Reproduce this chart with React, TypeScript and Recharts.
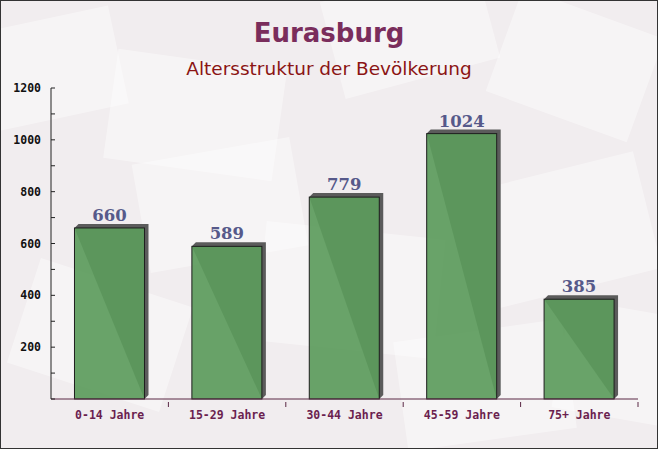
import { BarChart, Bar, XAxis, YAxis, LabelList } from "recharts";

const categories = ["0-14 Jahre", "15-29 Jahre", "30-44 Jahre", "45-59 Jahre", "75+ Jahre"];
const values = [660, 589, 779, 1024, 385];
const yTicks = [0, 100, 200, 300, 400, 500, 600, 700, 800, 900, 1000, 1100, 1200];

const W = 658;
const H = 449;
const PLOT_LEFT = 51;
const PLOT_RIGHT = 20;
const BAND = (W - PLOT_LEFT - PLOT_RIGHT) / categories.length;

const data = categories.map((name, i) => ({ name, value: values[i] }));

const BarShape = (props: any) => {
    const { x, y, width, height } = props;
    const d = 4;
    const pts = [
        [x, y],
        [x + d, y - d],
        [x + width + d, y - d],
        [x + width + d, y + height - d],
        [x + width, y + height],
    ].map(p => p.join(",")).join(" ");
    return (
        <g>
            <polygon points={pts} fill="#5b5b5b" />
            <rect x={x} y={y} width={width} height={height} fill="#5c9b5c" fillOpacity={0.92} stroke="#1e1e1e" strokeWidth={1} />
        </g>
    );
};

const YTick = (props: any) => {
    const { x, y, payload } = props;
    const v = payload.value;
    return (
        <g>
            <line x1={PLOT_LEFT} x2={PLOT_LEFT + 4} y1={y} y2={y} stroke="#222" />
            {v % 200 === 0 && v !== 0 && (
                <text x={x - 8} y={y + 4} textAnchor="end" fontFamily="DejaVu Sans Mono" fontWeight="bold" fontSize={11.5} fill="#111">
                    {v}
                </text>
            )}
        </g>
    );
};

const XTick = (props: any) => {
    const { x, y, payload } = props;
    return (
        <g>
            <line x1={x + BAND / 2} x2={x + BAND / 2} y1={y} y2={y - 5} stroke="#5a2845" />
            <text x={x} y={y + 12} textAnchor="middle" fontFamily="DejaVu Sans Mono" fontWeight="bold" fontSize={11.5} fill="#6b1f4f">
                {payload.value}
            </text>
        </g>
    );
};

const envelopes = [
    { l: -30, t: 20, w: 150, h: 100, r: -12 },
    { l: 110, t: 60, w: 170, h: 110, r: 8 },
    { l: 330, t: -20, w: 160, h: 100, r: -15 },
    { l: 500, t: 10, w: 150, h: 110, r: 20 },
    { l: 140, t: 150, w: 160, h: 110, r: -10 },
    { l: 260, t: 230, w: 180, h: 120, r: 6 },
    { l: 480, t: 170, w: 170, h: 120, r: -14 },
    { l: 20, t: 280, w: 160, h: 110, r: 18 },
    { l: 400, t: 330, w: 170, h: 110, r: -8 },
    { l: 560, t: 310, w: 140, h: 110, r: 10 },
];

export default function App() {
    return (
        <div style={{ position: "absolute", left: 0, top: 0, width: W, height: H, overflow: "hidden", background: "#f1edef" }}>
            {envelopes.map((e, i) => (
                <div key={i} style={{
                    position: "absolute", left: e.l, top: e.t, width: e.w, height: e.h,
                    background: "rgba(255,255,255,0.4)", transform: `rotate(${e.r}deg)`
                }} />
            ))}
            <div style={{ position: "absolute", top: 18, width: W, textAlign: "center", fontFamily: "DejaVu Sans", fontWeight: "bold", fontSize: 26, lineHeight: "normal", color: "#7a2d5c" }}>
                Eurasburg
            </div>
            <div style={{ position: "absolute", top: 58, width: W, textAlign: "center", fontFamily: "DejaVu Sans", fontSize: 18.5, lineHeight: "normal", color: "#8b1414" }}>
                Altersstruktur der Bevölkerung
            </div>
            <div style={{ position: "absolute", left: 0, top: 0 }}>
                <BarChart width={W} height={H} data={data} margin={{ top: 88, right: PLOT_RIGHT, bottom: 20, left: 0 }} barCategoryGap="20%">
                    <XAxis dataKey="name" height={30} tick={<XTick />} tickLine={false} axisLine={{ stroke: "#5a2845" }} interval={0} />
                    <YAxis width={PLOT_LEFT} domain={[0, 1200]} ticks={yTicks} tick={<YTick />} tickLine={false} tickSize={0} axisLine={{ stroke: "#222" }} interval={0} />
                    <Bar dataKey="value" shape={<BarShape />} isAnimationActive={false}>
                        <LabelList dataKey="value" position="top" offset={7} fontFamily="DejaVu Serif" fontWeight="bold" fontSize={16.5} fill="#56598a" />
                    </Bar>
                </BarChart>
            </div>
            <div style={{ position: "absolute", left: 0, top: 0, width: W - 2, height: H - 2, border: "1px solid #333", pointerEvents: "none" }} />
        </div>
    );
}
